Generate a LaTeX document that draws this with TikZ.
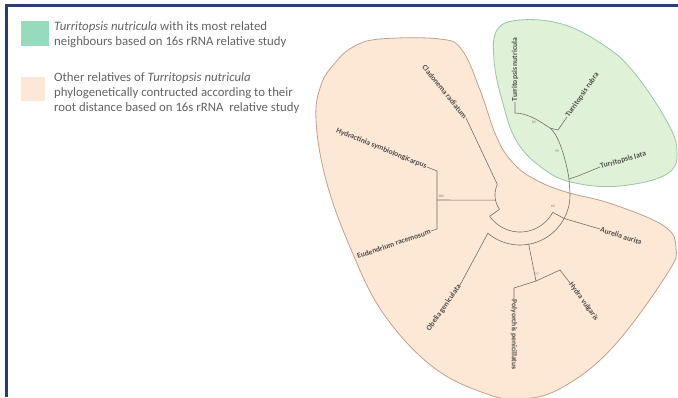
\documentclass[tikz,border=0pt]{standalone}
\usepackage{fontspec}
\setmainfont{Carlito}
\usetikzlibrary{calc}
\definecolor{frame}{RGB}{38,62,112}
\definecolor{mint}{RGB}{150,220,188}
\definecolor{mintpale}{RGB}{223,241,214}
\definecolor{mintedge}{RGB}{150,200,165}
\definecolor{peach}{RGB}{253,232,214}
\definecolor{peachedge}{RGB}{195,160,140}
\definecolor{ink}{RGB}{100,100,100}
\definecolor{leafink}{RGB}{80,78,76}
\definecolor{branch}{RGB}{115,110,105}

\begin{document}
\begin{tikzpicture}[x=1pt, y=-1pt,
    legend/.style={anchor=west, align=left, text=ink, inner sep=0pt,
                   font=\fontsize{12.8}{15}\selectfont},
    keybox/.style={draw=none, inner sep=0pt},
    leaf/.style={font=\fontsize{7.6}{8}\selectfont\bfseries, text=leafink, inner sep=0.5pt},
    br/.style={draw=branch, line width=0.6pt},
    boot/.style={font=\fontsize{3.5}{4}\selectfont, text=branch, inner sep=0pt}
]
\useasboundingbox (0,0) rectangle (678,397);
\fill[white] (0,0) rectangle (678,397);
\draw[frame, line width=3pt] (6,397) -- (6,5) -- (678,5);

% legend
\node[keybox, fill=mint, minimum width=28pt, minimum height=25pt] (kg) at (35,33.5) {};
\node[keybox, fill=peach, minimum width=24pt, minimum height=24pt] (kp) at (33,89) {};
\node[legend] (tg) at (54,34.5) {\textit{Turritopsis nutricula} with its most related\\neighbours based on 16s rRNA relative study};
\node[legend] (tp) at (54,93) {Other relatives of \textit{Turritopsis nutricula}\\phylogenetically contructed according to their\\root distance based on 16s rRNA \ relative study};

% clade outlines
\filldraw[fill=peach, draw=peachedge, line width=0.8pt] plot[smooth cycle, tension=0.65] coordinates {
  (380,39) (440,39) (462,50) (480,90) (497,138) (514,164) (536,180) (566,192)
  (612,204) (664,226) (676,248) (667,274) (613,347) (563,387) (523,399) (487,394)
  (433,367) (383,313) (350,247) (326,180) (316,120) (321,85) (335,63) (353,47)};
\filldraw[fill=mintpale, draw=mintedge, line width=0.8pt] plot[smooth cycle, tension=0.65] coordinates {
  (497,30) (520,20) (562,24) (602,44) (632,70) (665,118) (677,150) (667,174)
  (620,186) (575,183) (545,170) (517,142) (502,100) (494,60)};

% tree
\coordinate (C) at (520,195);
\node[leaf, rotate=90, anchor=west] (g1) at (515,102) {Turritopsis nutricula};
\node[leaf, rotate=55, anchor=west] (g2) at (567,117) {Turritopsis rubra};
\node[leaf, rotate=16, anchor=west] (g3) at (600,167) {Turritopsis lata};
\node[leaf, rotate=-51, anchor=east] (p1) at (466,118) {Cladonema radiatum};
\node[leaf, rotate=-22, anchor=east] (p2) at (427,167) {Hydractinia symbiolongicarpus};
\node[leaf, rotate=19, anchor=east] (p3) at (431,231) {Eudendrium racemosum};
\node[leaf, rotate=55, anchor=east] (p4) at (460,285) {Obelia geniculata};
\node[leaf, rotate=-90, anchor=west] (p5) at (514,299) {Polyorchis penicillatus};
\node[leaf, rotate=-54, anchor=west] (p6) at (570,283) {Hydra vulgaris};
\node[leaf, rotate=-18, anchor=west] (p7) at (600,229) {Aurelia aurita};

\coordinate (gn1) at (550,128);
\coordinate (gn2) at (569,179);
\coordinate (o0) at ($(C)+(-3:50)$);
\coordinate (o7) at ($(C)+(28:50)$);
\coordinate (o56) at ($(C)+(80:50)$);
\coordinate (o4) at ($(C)+(130:50)$);
\coordinate (i7) at ($(C)+(28:37)$);
\coordinate (i0) at ($(C)+(145:37)$);
\coordinate (r0) at ($(C)+(145:25)$);
\coordinate (r1) at ($(C)+(205:25)$);
\coordinate (r23) at ($(C)+(168:25)$);
\coordinate (b23) at (437,200);
\coordinate (pn56) at (536,281);

\draw[br] (g1.west) -- ++(0,11) .. controls +(14,0) and +(-8,-5) .. (gn1);
\draw[br] (g2.west) -- ++(-9,13) -- (gn1);
\draw[br] (gn1) .. controls +(10,8) and +(-2,-14) .. (gn2);
\draw[br] (g3.west) -- ++(-22,9) -- (gn2);
\draw[br] (gn2) -- (o0);
\draw[br] plot[domain=-3:130, samples=40] ({520+50*cos(\x)}, {195+50*sin(\x)});
\draw[br] plot[domain=28:145, samples=30] ({520+37*cos(\x)}, {195+37*sin(\x)});
\draw[br] plot[domain=145:205, samples=20] ({520+25*cos(\x)}, {195+25*sin(\x)});
\draw[br] (i7) -- (o7) -- (p7.west);
\draw[br] (r0) -- (i0);
\draw[br] (p1.east) -- (r1);
\draw[br] (p2.east) -- (437,171) -- (437,229) -- (p3.east);
\draw[br] (b23) -- (r23);
\draw[br] (p4.east) -- (o4);
\draw[br] (o56) -- (pn56) -- (514,288) -- (p5.west);
\draw[br] (pn56) -- (560,270) -- (p6.west);

\node[boot] (s1) at (441,196) {100};
\node[boot] (s2) at (534,122) {85};
\node[boot] (s3) at (557,151) {99};
\node[boot] (s4) at (537,274) {77};
\node[boot] (s5) at (553,206) {65};
\end{tikzpicture}
\end{document}
